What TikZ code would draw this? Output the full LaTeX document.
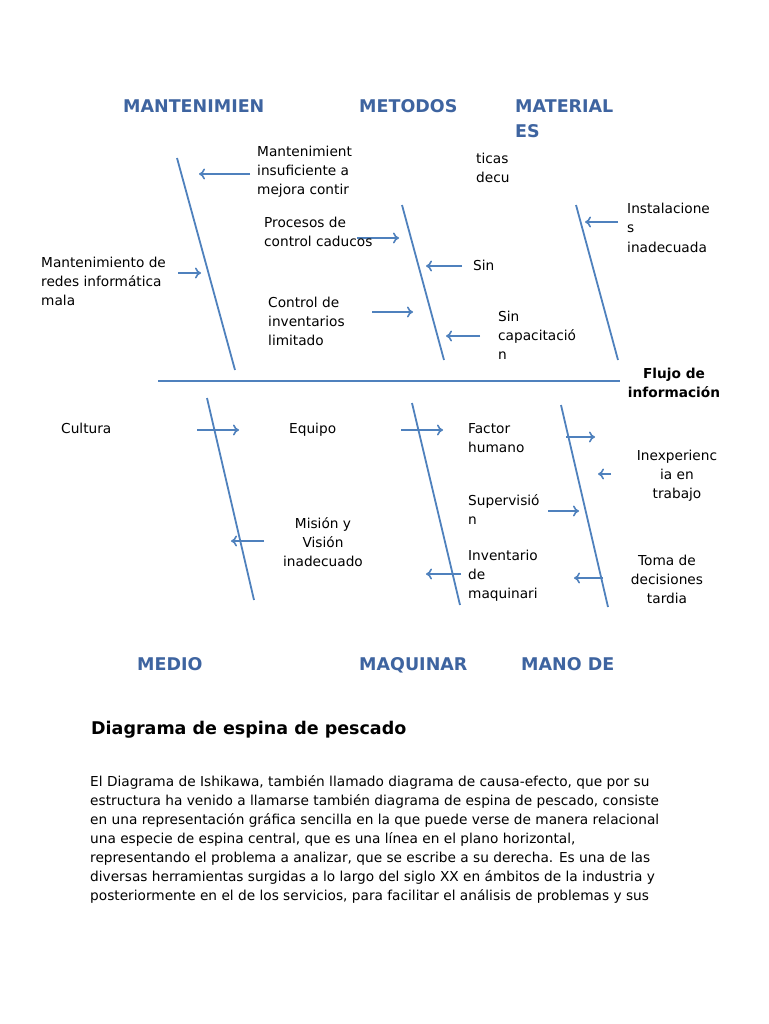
\documentclass[tikz,border=0pt]{standalone}
\usepackage{fontspec}
\setmainfont{DejaVu Sans}
\usetikzlibrary{arrows.meta}
\definecolor{bone}{HTML}{4F81BD}
\definecolor{head}{HTML}{3E64A0}
\tikzset{
 bonel/.style={bone, line width=1.8pt},
 arr/.style={bone, line width=1.6pt, -{To[length=6pt,width=11pt]}},
 t/.style={anchor=base west, inner sep=0pt, font=\fontsize{13.7}{15}\selectfont},
 tc/.style={anchor=base, inner sep=0pt, font=\fontsize{13.7}{15}\selectfont},
 hd/.style={anchor=base west, inner sep=0pt, text=head, font=\fontsize{17.5}{19}\selectfont\bfseries},
 fl/.style={anchor=base, inner sep=0pt, font=\fontsize{13.7}{15}\selectfont\bfseries},
}
\begin{document}
\begin{tikzpicture}[x=1pt,y=-1pt]
\fill[white] (0,0) rectangle (768,1024);
\useasboundingbox (0,0) rectangle (768,1024);
% headings
\node[hd] (h1) at (123,113) {MANTENIMIEN};
\node[hd] (h2) at (359,113) {METODOS};
\node[hd] (h3) at (515,113) {MATERIAL};
\node[hd] (h3b) at (515,138) {ES};
\node[hd] (h4) at (137,670) {MEDIO};
\node[hd] (h5) at (359,670) {MAQUINAR};
\node[hd] (h6) at (521,670) {MANO DE};
% bones
\coordinate (s1) at (158,381); \coordinate (s2) at (620,381);
\draw[bonel] (s1) -- (s2);
\coordinate (a1) at (177,158); \coordinate (a2) at (235,370); \draw[bonel] (a1) -- (a2);
\coordinate (b1) at (402,205); \coordinate (b2) at (444,360); \draw[bonel] (b1) -- (b2);
\coordinate (c1) at (576,205); \coordinate (c2) at (618,360); \draw[bonel] (c1) -- (c2);
\coordinate (d1) at (207,398); \coordinate (d2) at (254,600); \draw[bonel] (d1) -- (d2);
\coordinate (e1) at (412,403); \coordinate (e2) at (460,605); \draw[bonel] (e1) -- (e2);
\coordinate (f1) at (561,405); \coordinate (f2) at (608,607); \draw[bonel] (f1) -- (f2);
% arrows
\foreach \i/\xa/\ya/\xb/\yb in {1/250/174/199/174, 2/178/273/201/273, 3/357/238/399/238, 4/462/266/426/266, 5/372/312/413/312, 6/480/336/446/336, 7/618/222/585/222, 8/197/430/239/430, 9/401/430/443/430, 10/566/437/595/437, 11/611/474/598/474, 12/548/511/579/511, 13/264/541/231/541, 14/461/574/426/574, 15/603/578/574/578}{
 \coordinate (p\i) at (\xa,\ya); \coordinate (q\i) at (\xb,\yb);
 \draw[arr] (p\i) -- (q\i);
}
% texts top
\node[t] (m1) at (257,157) {Mantenimient};
\node[t] (m2) at (257,176) {insuficiente a};
\node[t] (m3) at (257,195) {mejora contir};
\node[t] (k1) at (476,164) {ticas};
\node[t] (k2) at (476,183) {decu};
\node[t] (pr1) at (264,228) {Procesos de};
\node[t] (pr2) at (264,247) {control caducos};
\node[t] (r1) at (41,267) {Mantenimiento de};
\node[t] (r2) at (41,286) {redes informática};
\node[t] (r3) at (41,305) {mala};
\node[t] (sn) at (473,270) {Sin};
\node[t] (ci1) at (268,307) {Control de};
\node[t] (ci2) at (268,326) {inventarios};
\node[t] (ci3) at (268,345) {limitado};
\node[t] (sc1) at (498,321) {Sin};
\node[t] (sc2) at (498,340) {capacitació};
\node[t] (sc3) at (498,359) {n};
\node[t] (in1) at (627,214) {Instalacione};
\node[t] (in2) at (627,233) {s};
\node[t] (in3) at (627,252) {inadecuada};
\node[fl] (fl1) at (674,378) {Flujo de};
\node[fl] (fl2) at (674,397) {información};
% texts bottom
\node[t] (cu) at (61,433) {Cultura};
\node[t] (eq) at (289,433) {Equipo};
\node[t] (fh1) at (468,433) {Factor};
\node[t] (fh2) at (468,452) {humano};
\node[tc] (ie1) at (677,460) {Inexperienc};
\node[tc] (ie2) at (677,479) {ia en};
\node[tc] (ie3) at (677,498) {trabajo};
\node[t] (su1) at (468,505) {Supervisió};
\node[t] (su2) at (468,524) {n};
\node[tc] (mv1) at (323,528) {Misión y};
\node[tc] (mv2) at (323,547) {Visión};
\node[tc] (mv3) at (323,566) {inadecuado};
\node[t] (iv1) at (468,560) {Inventario};
\node[t] (iv2) at (468,579) {de};
\node[t] (iv3) at (468,598) {maquinari};
\node[tc] (td1) at (667,565) {Toma de};
\node[tc] (td2) at (667,584) {decisiones};
\node[tc] (td3) at (667,603) {tardia};
% title and paragraph
\node[anchor=base west, inner sep=0pt, font=\fontsize{17.5}{19}\selectfont\bfseries] (ti) at (91,734) {Diagrama de espina de pescado};
\node[anchor=base west, inner sep=0pt, align=left, font=\fontsize{13.7}{19}\selectfont] (pa) at (90,900) {El Diagrama de Ishikawa, también llamado diagrama de causa-efecto, que por su\\
estructura ha venido a llamarse también diagrama de espina de pescado, consiste\\
en una representación gráfica sencilla en la que puede verse de manera relacional\\
una especie de espina central, que es una línea en el plano horizontal,\\
representando el problema a analizar, que se escribe a su derecha. Es una de las\\
diversas herramientas surgidas a lo largo del siglo XX en ámbitos de la industria y\\
posteriormente en el de los servicios, para facilitar el análisis de problemas y sus};
\end{tikzpicture}
\end{document}
